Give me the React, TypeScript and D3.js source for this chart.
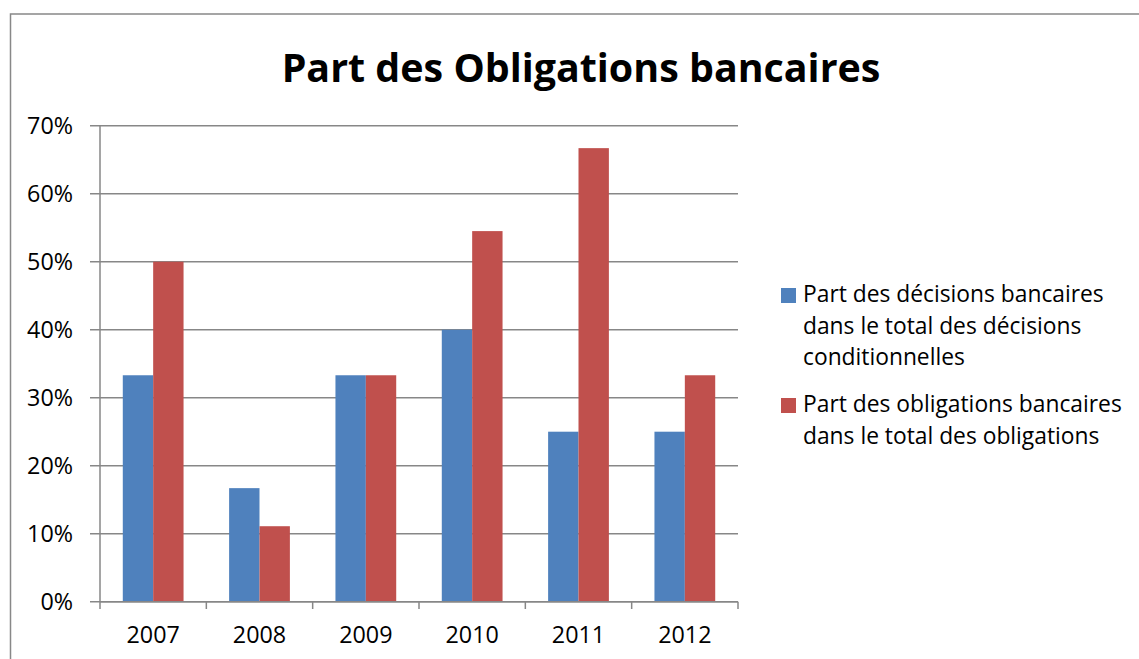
import React from "react";
import * as d3 from "d3";

const categories = ["2007", "2008", "2009", "2010", "2011", "2012"];
const decisionsShare = [33.3, 16.7, 33.3, 40.0, 25.0, 25.0];
const obligationsShare = [50.0, 11.1, 33.3, 54.5, 66.7, 33.3];
const yTicks = [0, 10, 20, 30, 40, 50, 60, 70];
const seriesNames = [
  ["Part des décisions bancaires", "dans le total des décisions", "conditionnelles"],
  ["Part des obligations bancaires", "dans le total des obligations"],
];
const colors = ["#4F81BD", "#C0504D"];

const W = 1139;
const H = 659;
const font = "'Open Sans', sans-serif";

export default function App() {
  const left = 100, right = 738, top = 125.7, bottom = 601.7;
  const x = d3.scaleBand().domain(categories).range([left, right]).paddingInner(0).paddingOuter(0);
  const y = d3.scaleLinear().domain([0, 70]).range([bottom, top]);
  const bw = x.bandwidth() / 3.5;
  const series = [decisionsShare, obligationsShare];
  const grid = "#878787";

  return (
    <svg width={W} height={H} style={{ position: "absolute", left: 0, top: 0 }} fontFamily={font}>
      <rect x={0} y={0} width={W} height={H} fill="#fff" />
      <rect x={10.5} y={14} width={W + 10} height={H + 10} fill="none" stroke="#888" strokeWidth={1.5} />
      <text x={581} y={82} textAnchor="middle" fontSize={39.4} fontWeight={700} fill="#000">
        Part des Obligations bancaires
      </text>
      {yTicks.map((t) => (
        <g key={t}>
          <line x1={90} x2={right} y1={y(t)} y2={y(t)} stroke={grid} strokeWidth={1.5} />
          <text x={73} y={y(t)} dy="0.35em" textAnchor="end" fontSize={23.3} fill="#000">
            {t}%
          </text>
        </g>
      ))}
      <line x1={left} x2={left} y1={top} y2={bottom} stroke={grid} strokeWidth={1.5} />
      {categories.map((c, i) => (
        <g key={c}>
          {series.map((s, j) => (
            <rect
              key={j}
              x={(x(c) as number) + bw * 0.75 + j * bw}
              y={y(s[i])}
              width={bw}
              height={bottom - y(s[i])}
              fill={colors[j]}
            />
          ))}
          <text x={(x(c) as number) + x.bandwidth() / 2} y={643} textAnchor="middle" fontSize={23.3} fill="#000">
            {c}
          </text>
        </g>
      ))}
      {[...categories.map((c) => x(c) as number), right].map((v, i) => (
        <line key={i} x1={v} x2={v} y1={bottom} y2={609} stroke={grid} strokeWidth={1.5} />
      ))}
      <line x1={left} x2={right} y1={bottom} y2={bottom} stroke={grid} strokeWidth={1.5} />
      {seriesNames.map((lines, j) => {
        const baseY = j === 0 ? 302 : 412;
        return (
          <g key={j}>
            <rect x={781} y={baseY - 14} width={15} height={15} fill={colors[j]} />
            {lines.map((l, k) => (
              <text key={k} x={803} y={baseY + k * 31.7} fontSize={22.8} fill="#000">
                {l}
              </text>
            ))}
          </g>
        );
      })}
    </svg>
  );
}
